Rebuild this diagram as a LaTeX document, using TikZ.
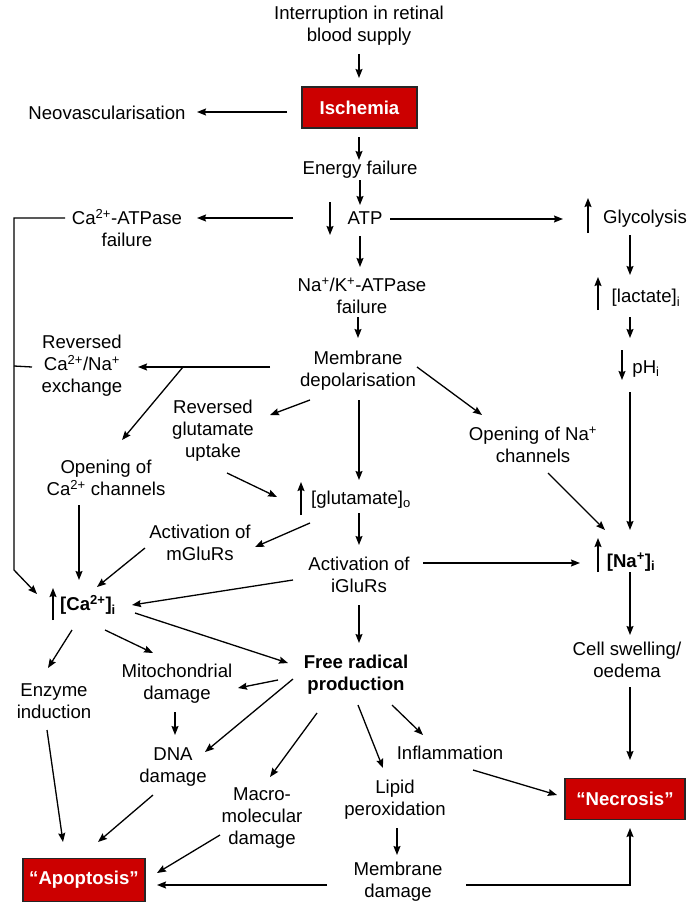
\documentclass[tikz,border=0pt]{standalone}
\usepackage{fontspec}
\setmainfont{Liberation Sans}
\usetikzlibrary{arrows.meta,calc}
\definecolor{boxred}{HTML}{CC0000}
\begin{document}
\begin{tikzpicture}[x=1pt,y=-1pt,
  txt/.style={align=center,font=\fontsize{18.6}{22}\selectfont,inner sep=0pt},
  btxt/.style={align=center,font=\fontsize{18.6}{22}\selectfont\bfseries,inner sep=0pt},
  redbox/.style={draw=black!85,line width=1.3pt,fill=boxred,text=white,
    font=\fontsize{18.6}{22}\selectfont\bfseries,inner sep=0pt},
  arr/.style={-{Stealth[length=9pt,width=7pt,inset=1.2pt]},line width=1.3pt},
  ln/.style={line width=1.3pt}]
\useasboundingbox (0,0) rectangle (687,907);
% nodes
\node[txt] (intr) at (359,26) {Interruption in retinal\\blood supply};
\node[redbox,minimum width=115pt,minimum height=41pt] (isch) at (359.5,107.5) {Ischemia};
\node[txt] (neo) at (107,113) {Neovascularisation};
\node[txt] (energy) at (360,170) {Energy failure};
\node[txt] (atp) at (365,218) {ATP};
\node[txt] (caatp) at (127,228) {Ca\textsuperscript{2+}-ATPase\\failure};
\node[txt] (glyc) at (645,219) {Glycolysis};
\node[txt] (nak) at (362,296) {Na\textsuperscript{+}/K\textsuperscript{+}-ATPase\\failure};
\node[txt] (lact) at (646,298) {[lactate]\textsubscript{i}};
\node[txt] (ph) at (646,369) {pH\textsubscript{i}};
\node[txt] (memb) at (358,371) {Membrane\\depolarisation};
\node[txt] (exch) at (82,366) {Reversed\\Ca\textsuperscript{2+}/Na\textsuperscript{+}\\exchange};
\node[txt] (revglu) at (213,431) {Reversed\\glutamate\\uptake};
\node[txt] (openca) at (106,478) {Opening of\\Ca\textsuperscript{2+} channels};
\node[txt] (openna) at (533,445) {Opening of Na\textsuperscript{+}\\channels};
\node[txt] (glu) at (361,500) {[glutamate]\textsubscript{o}};
\node[txt] (mglu) at (200,543) {Activation of\\mGluRs};
\node[txt] (iglu) at (359,575) {Activation of\\iGluRs};
\node[btxt] (na) at (631,562) {[Na\textsuperscript{+}]\textsubscript{i}};
\node[btxt] (ca) at (88,605) {[Ca\textsuperscript{2+}]\textsubscript{i}};
\node[txt] (cell) at (627,660) {Cell swelling/\\oedema};
\node[btxt] (free) at (356,675) {Free radical\\production};
\node[txt] (enz) at (54,701) {Enzyme\\induction};
\node[txt] (mito) at (177,684) {Mitochondrial\\damage};
\node[txt] (dna) at (173,767) {DNA\\damage};
\node[txt] (macro) at (262,818) {Macro-\\molecular\\damage};
\node[txt] (infl) at (450,753) {Inflammation};
\node[txt] (lipid) at (395,800) {Lipid\\peroxidation};
\node[txt] (memdam) at (398,882) {Membrane\\damage};
\node[redbox,minimum width=120pt,minimum height=41pt] (nec) at (625,799) {“Necrosis”};
\node[redbox,minimum width=122pt,minimum height=43pt] (apo) at (84,880) {“Apoptosis”};
\coordinate (bend) at (14,570);
% up/down indicator arrows
\draw[arr] ($(atp)+(-35,-16)$) -- ($(atp)+(-35,17)$);
\draw[arr] ($(glyc)+(-57,14)$) -- ($(glyc)+(-57,-21)$);
\draw[arr] ($(lact)+(-48,12)$) -- ($(lact)+(-48,-21)$);
\draw[arr] ($(ph)+(-24,-19)$) -- ($(ph)+(-24,11)$);
\draw[arr] ($(glu)+(-60,15)$) -- ($(glu)+(-60,-18)$);
\draw[arr] ($(na)+(-33,10)$) -- ($(na)+(-33,-24)$);
\draw[arr] ($(ca)+(-35,15)$) -- ($(ca)+(-35,-17)$);
% connectors
\draw[arr] ($(intr)+(0,28)$) -- ($(isch)+(-0.5,-29.5)$);
\draw[arr] ($(isch)+(-72.5,4.5)$) -- ($(neo)+(90,-1)$);
\draw[arr] ($(isch)+(-0.5,29.5)$) -- ($(energy)+(-1,-10)$);
\draw[arr] ($(energy)+(0,10)$) -- ($(atp)+(-5,-13)$);
\draw[arr] ($(atp)+(-72,0)$) -- ($(caatp)+(70,-10)$);
\draw[arr] ($(atp)+(25,1)$) -- ($(glyc)+(-82,0)$);
\draw[arr] ($(atp)+(-5,18)$) -- ($(nak)+(-2,-29)$);
\draw[arr] ($(glyc)+(-15,16)$) -- ($(lact)+(-16,-23)$);
\draw[arr] ($(lact)+(-16,19)$) -- ($(ph)+(-16,-31)$);
\draw[arr] ($(ph)+(-16,23)$) -- ($(na)+(-1,-32)$);
\draw[arr] ($(nak)+(-4,21)$) -- ($(memb)+(0,-33)$);
\draw[arr] ($(memb)+(-88,-4)$) -- ($(exch)+(56,1)$);
\draw[arr] ($(memb)+(-175,-4)$) -- ($(openca)+(16,-38)$);
\draw[arr] ($(caatp)+(-62,-10)$) -| (bend) -- ($(ca)+(-51,-11)$);
\draw[ln] ($(exch)+(-50,1)$) -- (bend |- exch);
\draw[arr] ($(memb)+(-48,29)$) -- ($(revglu)+(57,-16)$);
\draw[arr] ($(memb)+(1,29)$) -- ($(glu)+(-2,-20)$);
\draw[arr] ($(memb)+(59,-4)$) -- ($(openna)+(-51,-30)$);
\draw[arr] ($(revglu)+(14,42)$) -- ($(glu)+(-84,-3)$);
\draw[arr] ($(glu)+(-51,23)$) -- ($(mglu)+(55,4)$);
\draw[arr] ($(glu)+(-2,13)$) -- ($(iglu)+(0,-30)$);
\draw[arr] ($(openca)+(-27,27)$) -- ($(ca)+(-9,-25)$);
\draw[arr] ($(mglu)+(-55,5)$) -- ($(ca)+(9,-18)$);
\draw[arr] ($(iglu)+(-66,5)$) -- ($(ca)+(44,0)$);
\draw[arr] ($(iglu)+(64,-12)$) -- ($(na)+(-51,1)$);
\draw[arr] ($(openna)+(15,28)$) -- ($(na)+(-26,-32)$);
\draw[arr] ($(iglu)+(0,30)$) -- ($(free)+(3,-32)$);
\draw[arr] ($(na)+(-1,10)$) -- ($(cell)+(3,-25)$);
\draw[arr] ($(cell)+(3,27)$) -- ($(nec)+(5,-39)$);
\draw[arr] ($(ca)+(-16,25)$) -- ($(enz)+(-6,-33)$);
\draw[arr] ($(ca)+(17,25)$) -- ($(mito)+(-24,-31)$);
\draw[arr] ($(ca)+(47,8)$) -- ($(free)+(-68,-12)$);
\draw[arr] ($(free)+(-78,5)$) -- ($(mito)+(61,4)$);
\draw[arr] ($(free)+(-63,4)$) -- ($(dna)+(32,-15)$);
\draw[arr] ($(free)+(-39,38)$) -- ($(macro)+(8,-41)$);
\draw[arr] ($(free)+(2,30)$) -- ($(lipid)+(-12,-32)$);
\draw[arr] ($(free)+(36,30)$) -- ($(infl)+(-27,-18)$);
\draw[arr] ($(mito)+(-2,28)$) -- ($(dna)+(2,-32)$);
\draw[arr] ($(enz)+(-7,29)$) -- ($(apo)+(-21,-38)$);
\draw[arr] ($(dna)+(-20,28)$) -- ($(apo)+(14,-38)$);
\draw[arr] ($(macro)+(-42,17)$) -- ($(apo)+(73,-7)$);
\draw[arr] ($(memdam)+(-71,3)$) -- ($(apo)+(73,5)$);
\draw[arr] ($(lipid)+(2,28)$) -- ($(memdam)+(-1,-27)$);
\draw[arr] ($(memdam)+(68,3)$) -| ($(nec)+(5,29)$);
\draw[arr] ($(infl)+(23,17)$) -- ($(nec)+(-68,-4)$);
\end{tikzpicture}
\end{document}
